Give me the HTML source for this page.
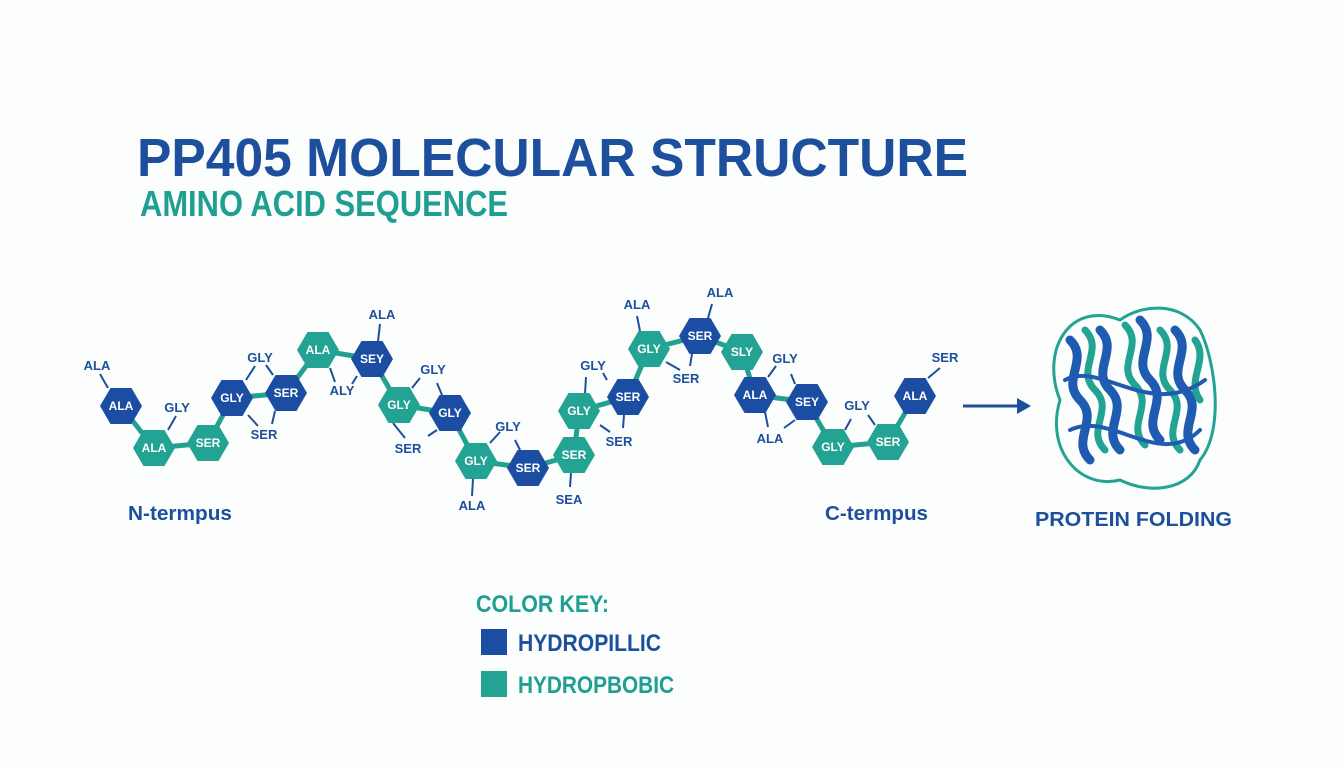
<!DOCTYPE html>
<html><head><meta charset="utf-8"><style>
html,body{margin:0;padding:0;background:#fdfefe;}
svg{display:block;font-family:"Liberation Sans",sans-serif;font-weight:bold;}
</style></head><body>
<svg width="1344" height="768" viewBox="0 0 1344 768" xmlns="http://www.w3.org/2000/svg">
<rect width="1344" height="768" fill="#fcfdfd"/>
<text x="137" y="176" font-size="54" fill="#1d4f9c" textLength="831" lengthAdjust="spacingAndGlyphs">PP405 MOLECULAR STRUCTURE</text>
<text x="140" y="216" font-size="36" fill="#1f9e92" textLength="368" lengthAdjust="spacingAndGlyphs">AMINO ACID SEQUENCE</text>

<g id="chain">
<!-- bonds -->
<polyline fill="none" stroke="#22a090" stroke-width="5" points="121,406 154,448 208,443 232,398 286,393 318,350 372,359 399,405 450,413 476,461 528,468 574,455 579,411 628,397 649,349 700,336 742,352 755,395 807,402 833,447 888,442 915,396"/>
<g stroke="#1d4f9c" stroke-width="2">
<line x1="108" y1="388" x2="100" y2="374"/><line x1="168" y1="430" x2="176" y2="416"/>
<line x1="246" y1="380" x2="255" y2="366"/><line x1="273" y1="375" x2="266" y2="365"/>
<line x1="248" y1="415" x2="258" y2="426"/><line x1="275" y1="411" x2="272" y2="424"/>
<line x1="378" y1="341" x2="380" y2="324"/><line x1="330" y1="368" x2="335" y2="382"/>
<line x1="357" y1="376" x2="352" y2="384"/><line x1="412" y1="388" x2="420" y2="378"/>
<line x1="442" y1="395" x2="437" y2="383"/><line x1="393" y1="423" x2="405" y2="438"/>
<line x1="437" y1="430" x2="428" y2="436"/><line x1="473" y1="479" x2="472" y2="496"/>
<line x1="490" y1="443" x2="500" y2="432"/><line x1="520" y1="450" x2="515" y2="440"/>
<line x1="571" y1="473" x2="570" y2="487"/><line x1="585" y1="394" x2="586" y2="377"/>
<line x1="607" y1="380" x2="603" y2="373"/><line x1="600" y1="425" x2="610" y2="432"/>
<line x1="624" y1="415" x2="623" y2="428"/><line x1="640" y1="331" x2="637" y2="316"/>
<line x1="666" y1="362" x2="680" y2="370"/><line x1="708" y1="318" x2="712" y2="304"/>
<line x1="692" y1="354" x2="690" y2="366"/><line x1="768" y1="377" x2="776" y2="366"/>
<line x1="795" y1="384" x2="791" y2="374"/><line x1="765" y1="412" x2="768" y2="427"/>
<line x1="795" y1="420" x2="784" y2="428"/><line x1="845" y1="430" x2="851" y2="419"/>
<line x1="875" y1="425" x2="868" y2="415"/><line x1="928" y1="378" x2="940" y2="368"/>
</g>
</g>
<g font-size="12" fill="#ffffff" text-anchor="middle">
<!-- hexagons: blue #1b4ea3, teal #22a393 -->
<g id="h"></g>
</g>
<g text-anchor="middle" font-size="12">
<path d="M100,406 l10.5,-18 h21 l10.5,18 l-10.5,18 h-21z" fill="#1b4ea3"/><text x="121" y="410" fill="#fff">ALA</text>
<path d="M133,448 l10.5,-18 h21 l10.5,18 l-10.5,18 h-21z" fill="#22a393"/><text x="154" y="452" fill="#fff">ALA</text>
<path d="M187,443 l10.5,-18 h21 l10.5,18 l-10.5,18 h-21z" fill="#22a393"/><text x="208" y="447" fill="#fff">SER</text>
<path d="M211,398 l10.5,-18 h21 l10.5,18 l-10.5,18 h-21z" fill="#1b4ea3"/><text x="232" y="402" fill="#fff">GLY</text>
<path d="M265,393 l10.5,-18 h21 l10.5,18 l-10.5,18 h-21z" fill="#1b4ea3"/><text x="286" y="397" fill="#fff">SER</text>
<path d="M297,350 l10.5,-18 h21 l10.5,18 l-10.5,18 h-21z" fill="#22a393"/><text x="318" y="354" fill="#fff">ALA</text>
<path d="M351,359 l10.5,-18 h21 l10.5,18 l-10.5,18 h-21z" fill="#1b4ea3"/><text x="372" y="363" fill="#fff">SEY</text>
<path d="M378,405 l10.5,-18 h21 l10.5,18 l-10.5,18 h-21z" fill="#22a393"/><text x="399" y="409" fill="#fff">GLY</text>
<path d="M429,413 l10.5,-18 h21 l10.5,18 l-10.5,18 h-21z" fill="#1b4ea3"/><text x="450" y="417" fill="#fff">GLY</text>
<path d="M455,461 l10.5,-18 h21 l10.5,18 l-10.5,18 h-21z" fill="#22a393"/><text x="476" y="465" fill="#fff">GLY</text>
<path d="M507,468 l10.5,-18 h21 l10.5,18 l-10.5,18 h-21z" fill="#1b4ea3"/><text x="528" y="472" fill="#fff">SER</text>
<path d="M553,455 l10.5,-18 h21 l10.5,18 l-10.5,18 h-21z" fill="#22a393"/><text x="574" y="459" fill="#fff">SER</text>
<path d="M558,411 l10.5,-18 h21 l10.5,18 l-10.5,18 h-21z" fill="#22a393"/><text x="579" y="415" fill="#fff">GLY</text>
<path d="M607,397 l10.5,-18 h21 l10.5,18 l-10.5,18 h-21z" fill="#1b4ea3"/><text x="628" y="401" fill="#fff">SER</text>
<path d="M628,349 l10.5,-18 h21 l10.5,18 l-10.5,18 h-21z" fill="#22a393"/><text x="649" y="353" fill="#fff">GLY</text>
<path d="M679,336 l10.5,-18 h21 l10.5,18 l-10.5,18 h-21z" fill="#1b4ea3"/><text x="700" y="340" fill="#fff">SER</text>
<path d="M721,352 l10.5,-18 h21 l10.5,18 l-10.5,18 h-21z" fill="#22a393"/><text x="742" y="356" fill="#fff">SLY</text>
<path d="M734,395 l10.5,-18 h21 l10.5,18 l-10.5,18 h-21z" fill="#1b4ea3"/><text x="755" y="399" fill="#fff">ALA</text>
<path d="M786,402 l10.5,-18 h21 l10.5,18 l-10.5,18 h-21z" fill="#1b4ea3"/><text x="807" y="406" fill="#fff">SEY</text>
<path d="M812,447 l10.5,-18 h21 l10.5,18 l-10.5,18 h-21z" fill="#22a393"/><text x="833" y="451" fill="#fff">GLY</text>
<path d="M867,442 l10.5,-18 h21 l10.5,18 l-10.5,18 h-21z" fill="#22a393"/><text x="888" y="446" fill="#fff">SER</text>
<path d="M894,396 l10.5,-18 h21 l10.5,18 l-10.5,18 h-21z" fill="#1b4ea3"/><text x="915" y="400" fill="#fff">ALA</text>
</g>
<g font-size="13" fill="#1d4f9c" text-anchor="middle">
<text x="97" y="370">ALA</text><text x="177" y="412">GLY</text>
<text x="260" y="362">GLY</text><text x="264" y="439">SER</text>
<text x="382" y="319">ALA</text><text x="342" y="395">ALY</text>
<text x="433" y="374">GLY</text><text x="408" y="453">SER</text>
<text x="472" y="510">ALA</text><text x="508" y="431">GLY</text>
<text x="569" y="504">SEA</text><text x="593" y="370">GLY</text>
<text x="619" y="446">SER</text><text x="637" y="309">ALA</text>
<text x="686" y="383">SER</text><text x="720" y="297">ALA</text>
<text x="785" y="363">GLY</text><text x="770" y="443">ALA</text>
<text x="857" y="410">GLY</text><text x="945" y="362">SER</text>
</g>
<g font-size="20" fill="#1d4f9c">
<text x="128" y="520" textLength="104" lengthAdjust="spacingAndGlyphs">N-termpus</text>
<text x="825" y="520" textLength="103" lengthAdjust="spacingAndGlyphs">C-termpus</text>
<text x="1035" y="526" textLength="197" lengthAdjust="spacingAndGlyphs">PROTEIN FOLDING</text>
</g>
<line x1="963" y1="406" x2="1020" y2="406" stroke="#1d4f9c" stroke-width="3"/>
<path d="M1031,406 l-14,-8 v16z" fill="#1d4f9c"/>
<!-- protein -->
<g fill="none" stroke-linecap="round">
<path d="M1120,320 C1070,300 1040,350 1060,400 C1045,450 1080,490 1120,480 C1150,495 1190,490 1200,460 C1225,430 1215,360 1200,330 C1180,300 1140,305 1120,320" stroke="#22a393" stroke-width="3"/>
<path d="M1070,340 c20,20 -10,40 10,60 s-10,40 10,60 M1100,330 c20,20 -10,40 10,60 s-10,40 10,60 M1140,320 c20,20 -10,40 10,60 s-10,40 10,60 M1175,330 c20,20 -10,40 10,60 s-10,40 10,60" stroke="#1f5bb0" stroke-width="9"/>
<path d="M1085,330 c20,20 -10,40 10,60 s-10,40 10,60 M1125,325 c20,20 -10,40 10,60 s-10,40 10,60 M1160,330 c20,20 -10,40 10,60 s-10,40 10,60 M1195,340 c15,20 -10,40 5,60" stroke="#22a393" stroke-width="7"/>
<path d="M1065,380 C1100,360 1150,420 1205,380 M1070,430 C1110,410 1160,470 1200,430" stroke="#1f5bb0" stroke-width="4"/>
</g>
<text x="476" y="612" font-size="24" fill="#1f9e92" textLength="133" lengthAdjust="spacingAndGlyphs">COLOR KEY:</text>
<rect x="481" y="629" width="26" height="26" fill="#1b4ea3"/>
<rect x="481" y="671" width="26" height="26" fill="#22a393"/>
<text x="518" y="651" font-size="24" fill="#1d4f9c" textLength="143" lengthAdjust="spacingAndGlyphs">HYDROPILLIC</text>
<text x="518" y="693" font-size="24" fill="#1f9e92" textLength="156" lengthAdjust="spacingAndGlyphs">HYDROPBOBIC</text>
</svg>
</body></html>
